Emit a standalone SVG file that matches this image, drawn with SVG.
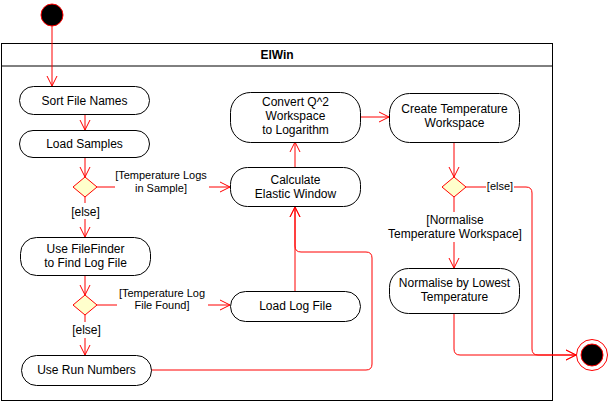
<svg xmlns="http://www.w3.org/2000/svg" width="608" height="406" viewBox="0 0 608 406">
<defs>
<marker id="arr" viewBox="0 0 12 12" refX="11" refY="6" markerWidth="12" markerHeight="12" markerUnits="userSpaceOnUse" orient="auto">
<path d="M1,1 L11,6 L1,11" fill="none" stroke="#ff0000" stroke-width="1"/>
</marker>
<style>
.act{fill:#ffffff;stroke:#000000;stroke-width:1}
.t{font-family:"Liberation Sans",Arial,sans-serif;font-size:12px;fill:#000000;text-anchor:middle}
.l{font-family:"Liberation Sans",Arial,sans-serif;font-size:11px;fill:#000000;text-anchor:middle}
.c{fill:none;stroke:#ff0000;stroke-width:1}
.ca{fill:none;stroke:#ff0000;stroke-width:1;marker-end:url(#arr)}
.dec{fill:#ffffcc;stroke:#ff0000;stroke-width:1}
</style>
</defs>
<rect width="608" height="406" fill="#ffffff"/>
<g id="frame">
<rect x="1.5" y="43.5" width="551" height="357" fill="none" stroke="#000000" stroke-width="1"/>
<line x1="1.5" y1="66" x2="552.5" y2="66" stroke="#000000" stroke-width="1"/>
<text x="277" y="59" class="t" font-weight="bold">ElWin</text>
</g>
<g id="connectors">
<line class="ca" x1="52" y1="26" x2="52" y2="86"/>
<line class="ca" x1="85" y1="114" x2="85" y2="130"/>
<line class="ca" x1="85" y1="157" x2="85" y2="177"/>
<line class="c" x1="97" y1="187" x2="115" y2="187"/>
<line class="ca" x1="209" y1="187" x2="230" y2="187"/>
<text x="161" y="179" class="l">[Temperature Logs</text>
<text x="161" y="192" class="l">in Sample]</text>
<line class="c" x1="85" y1="197" x2="85" y2="203"/>
<text x="85.5" y="215.5" class="t">[else]</text>
<line class="ca" x1="85" y1="219" x2="85" y2="237"/>
<line class="ca" x1="85" y1="275" x2="85" y2="295"/>
<line class="c" x1="97" y1="305" x2="117" y2="305"/>
<line class="ca" x1="208" y1="305" x2="230" y2="305"/>
<text x="162" y="297" class="l">[Temperature Log</text>
<text x="162" y="309" class="l">File Found]</text>
<line class="c" x1="85" y1="315" x2="85" y2="322"/>
<text x="86.5" y="334" class="t">[else]</text>
<line class="ca" x1="85" y1="338" x2="85" y2="355"/>
<line class="ca" x1="295" y1="291" x2="295" y2="207"/>
<path class="ca" d="M151,370 H366 Q372,370 372,364 V258 Q372,252 366,252 H301 Q295,252 295,246 V207"/>
<line class="ca" x1="295" y1="167" x2="295" y2="142"/>
<line class="ca" x1="360" y1="117" x2="389" y2="117"/>
<line class="ca" x1="454" y1="143" x2="454" y2="177"/>
<line class="c" x1="466" y1="187" x2="486" y2="187"/>
<text x="500" y="190" class="l">[else]</text>
<path class="ca" d="M514,187 H526 Q532,187 532,193 V349 Q532,355 538,355 H576"/>
<line class="c" x1="454" y1="197" x2="454" y2="212"/>
<text x="455" y="224" class="t">[Normalise</text>
<text x="455" y="238" class="t">Temperature Workspace]</text>
<line class="ca" x1="454" y1="242" x2="454" y2="268"/>
<path class="ca" d="M454,313 V349 Q454,355 460,355 H576"/>
</g>
<g id="start">
<circle cx="52" cy="15" r="11" fill="#000000" stroke="#ff0000" stroke-width="1"/>
</g>
<g id="sortFileNames">
<rect class="act" x="19.5" y="86.5" width="130" height="28" rx="14"/>
<text x="84.5" y="105" class="t">Sort File Names</text>
</g>
<g id="loadSamples">
<rect class="act" x="19.5" y="130.5" width="130" height="27" rx="13.5"/>
<text x="84.5" y="148" class="t">Load Samples</text>
</g>
<g id="decision1">
<polygon class="dec" points="85,177 97,187 85,197 73,187"/>
</g>
<g id="useFileFinder">
<rect class="act" x="20.5" y="237.5" width="130" height="38" rx="16"/>
<text x="85.5" y="253" class="t">Use FileFinder</text>
<text x="85.5" y="267" class="t">to Find Log File</text>
</g>
<g id="decision2">
<polygon class="dec" points="85,295 97,305 85,315 73,305"/>
</g>
<g id="useRunNumbers">
<rect class="act" x="21.5" y="355.5" width="130" height="30" rx="15"/>
<text x="86.5" y="374" class="t">Use Run Numbers</text>
</g>
<g id="loadLogFile">
<rect class="act" x="230.5" y="291.5" width="130" height="30" rx="15"/>
<text x="295.5" y="310" class="t">Load Log File</text>
</g>
<g id="calculateElasticWindow">
<rect class="act" x="230.5" y="167.5" width="130" height="39" rx="17"/>
<text x="295.5" y="184" class="t">Calculate</text>
<text x="295.5" y="198" class="t">Elastic Window</text>
</g>
<g id="convertQ2">
<rect class="act" x="230.5" y="92.5" width="130" height="50" rx="20"/>
<text x="295.5" y="106" class="t">Convert Q^2</text>
<text x="295.5" y="120" class="t">Workspace</text>
<text x="295.5" y="134" class="t">to Logarithm</text>
</g>
<g id="createTemperatureWorkspace">
<rect class="act" x="389.5" y="93.5" width="130" height="49" rx="20"/>
<text x="454.5" y="113" class="t">Create Temperature</text>
<text x="454.5" y="127" class="t">Workspace</text>
</g>
<g id="decision3">
<polygon class="dec" points="454,177 466,187 454,197 442,187"/>
</g>
<g id="normaliseByLowest">
<rect class="act" x="389.5" y="268.5" width="130" height="45" rx="19"/>
<text x="454.5" y="287" class="t">Normalise by Lowest</text>
<text x="454.5" y="301" class="t">Temperature</text>
</g>
<g id="end">
<circle cx="592" cy="355" r="15.5" fill="#ffffff" stroke="#ff0000" stroke-width="1"/>
<circle cx="592" cy="355" r="11" fill="#000000" stroke="#ff0000" stroke-width="1"/>
</g>
</svg>
